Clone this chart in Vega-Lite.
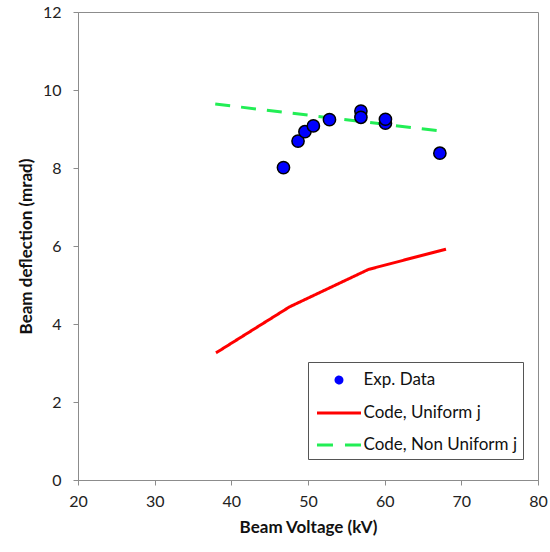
{
  "$schema": "https://vega.github.io/schema/vega-lite/v6.json",
  "width": 460,
  "height": 468,
  "autosize": {"type": "none"},
  "padding": {"left": 78, "top": 12, "right": 12, "bottom": 72},
  "background": "white",
  "config": {
    "font": "Lato",
    "view": {"stroke": "#8c8c8c", "strokeWidth": 1},
    "axis": {
      "grid": false,
      "domainColor": "#8c8c8c",
      "tickColor": "#8c8c8c",
      "tickSize": 5,
      "labelFlush": false,
      "labelFont": "Lato",
      "labelFontSize": 16,
      "labelColor": "#222",
      "titleFont": "Lato",
      "titleFontSize": 17,
      "titleFontWeight": "bold",
      "titleColor": "#111"
    }
  },
  "datasets": {
    "exp": [
      {"V": 46.8, "D": 8.01, "series": "Exp. Data"},
      {"V": 48.7, "D": 8.69, "series": "Exp. Data"},
      {"V": 49.6, "D": 8.93, "series": "Exp. Data"},
      {"V": 50.7, "D": 9.08, "series": "Exp. Data"},
      {"V": 52.8, "D": 9.24, "series": "Exp. Data"},
      {"V": 56.9, "D": 9.46, "series": "Exp. Data"},
      {"V": 56.9, "D": 9.30, "series": "Exp. Data"},
      {"V": 60.1, "D": 9.15, "series": "Exp. Data"},
      {"V": 60.1, "D": 9.25, "series": "Exp. Data"},
      {"V": 67.2, "D": 8.38, "series": "Exp. Data"}
    ],
    "code": [
      {"V": 38.0, "D": 3.26, "series": "Code, Uniform j"},
      {"V": 47.6, "D": 4.44, "series": "Code, Uniform j"},
      {"V": 57.9, "D": 5.40, "series": "Code, Uniform j"},
      {"V": 68.0, "D": 5.92, "series": "Code, Uniform j"},
      {"V": 37.9, "D": 9.64, "series": "Code, Non Uniform j"},
      {"V": 68.1, "D": 8.93, "series": "Code, Non Uniform j"}
    ]
  },
  "layer": [
    {
      "data": {"name": "code"},
      "mark": {"type": "line", "strokeWidth": 3},
      "encoding": {
        "x": {
          "field": "V", "type": "quantitative",
          "scale": {"domain": [20, 80], "nice": false, "zero": false},
          "axis": {"values": [20, 30, 40, 50, 60, 70, 80], "title": "Beam Voltage (kV)", "labelPadding": 8, "titlePadding": 10}
        },
        "y": {
          "field": "D", "type": "quantitative",
          "scale": {"domain": [0, 12], "nice": false},
          "axis": {"values": [0, 2, 4, 6, 8, 10, 12], "title": "Beam deflection (mrad)", "labelPadding": 12, "titlePadding": 7}
        },
        "color": {
          "field": "series", "type": "nominal",
          "scale": {
            "domain": ["Exp. Data", "Code, Uniform j", "Code, Non Uniform j"],
            "range": ["#0000ff", "#ff0000", "#22ee55"]
          },
          "legend": {
            "title": null,
            "orient": "none",
            "legendX": 230,
            "legendY": 350,
            "padding": 5.5,
            "strokeColor": "#555",
            "fillColor": "white",
            "labelFont": "Lato",
            "labelFontSize": 17,
            "labelColor": "#111",
            "labelOffset": 25,
            "rowPadding": 11,
            "symbolSize": 484,
            "symbolStrokeWidth": 3,
            "labelLimit": 400,
            "encode": {
              "symbols": {
                "update": {
                  "shape": {"signal": "datum.value === 'Exp. Data' ? 'M 0.91,0 A 0.27,0.27 0 1,0 1.45,0 A 0.27,0.27 0 1,0 0.91,0 Z' : 'M -0.82,0 L 3.18,0'"},
                  "fill": {"signal": "datum.value === 'Exp. Data' ? '#0000ff' : 'transparent'"},
                  "stroke": {"signal": "datum.value === 'Exp. Data' ? '#0000ff' : (datum.value === 'Code, Uniform j' ? '#ff0000' : '#22ee55')"},
                  "strokeDash": {"signal": "datum.value === 'Code, Non Uniform j' ? [16, 12] : [1, 0]"},
                  "opacity": {"value": 1}
                }
              }
            }
          }
        },
        "strokeDash": {
          "field": "series", "type": "nominal",
          "scale": {"domain": ["Code, Uniform j", "Code, Non Uniform j"], "range": [[1, 0], [15, 11]]},
          "legend": null
        }
      }
    },
    {
      "data": {"name": "exp"},
      "mark": {"type": "point", "filled": true, "size": 150, "stroke": "black", "strokeWidth": 1.5, "opacity": 1},
      "encoding": {
        "x": {"field": "V", "type": "quantitative"},
        "y": {"field": "D", "type": "quantitative"},
        "color": {"field": "series", "type": "nominal"}
      }
    }
  ]
}
